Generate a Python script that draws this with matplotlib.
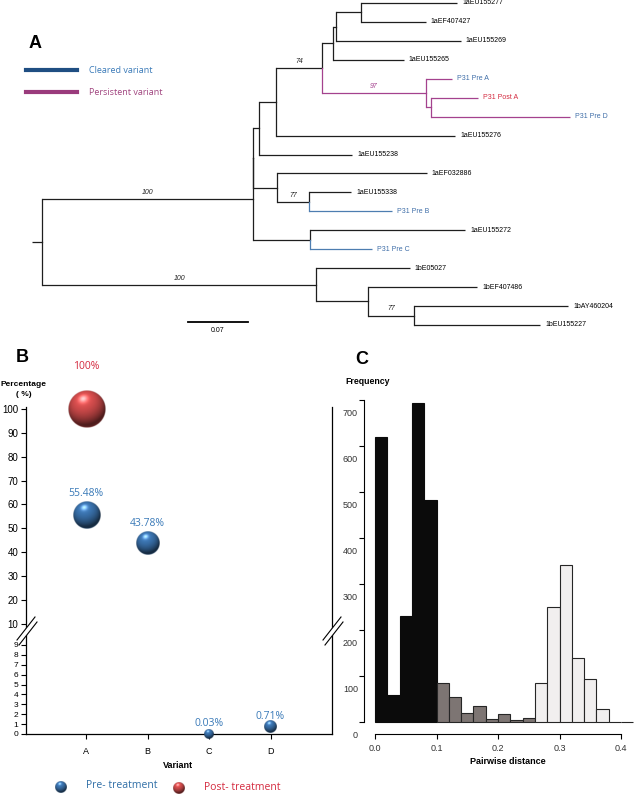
import re

import numpy as np
import matplotlib
matplotlib.use("Agg")
import matplotlib.pyplot as plt
import matplotlib.transforms as mtransforms
from matplotlib.lines import Line2D
from matplotlib.patches import Polygon

# ---------------- data ----------------
# A: maximum-likelihood tree (branch lengths in substitutions/site, bootstrap as node names)
tree_newick = (
    "(((((((((1aEU155277:0.112,1aEF407427:0.075):0.030,1aEU155269:0.146):0.0035,"
    "1aEU155265:0.083):0.012,(P31 Pre A:0.030,(P31 Post A:0.055,P31 Pre D:0.162):0.006)97:0.121)74:0.054,"
    "1aEU155276:0.209):0.020,1aEU155238:0.109):0.007,(1aEF032886:0.175,"
    "(1aEU155338:0.050,P31 Pre B:0.097)77:0.037):0.028):0,(1aEU155272:0.181,P31 Pre C:0.072):0.067)100:0.246,"
    "(1bE05027:0.109,(1bEF407486:0.128,(1bAY460204:0.180,1bEU155227:0.147)77:0.054):0.060)100:0.320):0.0117;"
)
cleared_tips = ["P31 Pre B", "P31 Pre C"]
persistent_tips = ["P31 Pre A", "P31 Post A", "P31 Pre D"]
scale_bar = 0.07

# B: variant frequencies (%)
variants = ["A", "B", "C", "D"]
pre_pct = [55.48, 43.78, 0.03, 0.71]
post_pct = [100.0, None, None, None]

# C: pairwise distance histogram
bin_left = [0.00, 0.02, 0.04, 0.06, 0.08, 0.10, 0.12, 0.14, 0.16, 0.18, 0.20,
            0.22, 0.24, 0.26, 0.28, 0.30, 0.32, 0.34, 0.36, 0.38, 0.40]
freq = [620, 59, 230, 693, 483, 85, 54, 20, 35, 6, 17,
        5, 8, 85, 250, 341, 139, 93, 28, 1, 1]
bin_group = [0, 0, 0, 0, 0, 1, 1, 1, 1, 1, 1,
             1, 1, 2, 2, 2, 2, 2, 2, 2, 2]

# ---------------- style ----------------
BLUE_BR = "#4d7db0"
PURPLE_BR = "#a4428e"
BLUE_TXT = "#3f6ea8"
RED_TXT = "#d42a3f"
LEG_BLUE = "#1f4e82"
LEG_PURPLE = "#9a3b7c"
LABEL_BLUE = "#3a7ab8"
group_face = ["#0b0b0b", "#7d7573", "#f1efef"]
group_edge = ["#0b0b0b", "#262626", "#262626"]

W, H = 635, 794
fig = plt.figure(figsize=(W / 100, H / 100), dpi=100)
plt.rcParams["font.family"] = ["Liberation Sans", "DejaVu Sans"]


def rect(x0, y0, x1, y1):
    return [x0 / W, 1 - y1 / H, (x1 - x0) / W, (y1 - y0) / H]


# overlay in pixel coordinates for panel letters and free text
ov = fig.add_axes([0, 0, 1, 1], zorder=10)
ov.set_xlim(0, W)
ov.set_ylim(H, 0)
ov.axis("off")


# ---------------- A: tree ----------------
def parse_newick(s):
    s = s.strip().rstrip(";")
    pos = 0

    def node():
        nonlocal pos
        n = {"children": [], "name": "", "len": 0.0}
        if s[pos] == "(":
            pos += 1
            while True:
                n["children"].append(node())
                if s[pos] == ",":
                    pos += 1
                    continue
                pos += 1
                break
        m = re.match(r"([^:,()]*)(?::([0-9.eE-]+))?", s[pos:])
        n["name"] = m.group(1).strip()
        if m.group(2):
            n["len"] = float(m.group(2))
        pos += m.end()
        return n

    return node()


tips = []


def layout(n, x0):
    n["x0"] = x0
    n["x"] = x0 + n["len"]
    if n["children"]:
        for c in n["children"]:
            layout(c, n["x"])
        n["y"] = (n["children"][0]["y"] + n["children"][-1]["y"]) / 2
        n["tips"] = sum([c["tips"] for c in n["children"]], [])
    else:
        n["y"] = len(tips)
        tips.append(n["name"])
        n["tips"] = [n["name"]]


def branch_colour(n):
    if all(t in persistent_tips for t in n["tips"]):
        return PURPLE_BR
    if all(t in cleared_tips for t in n["tips"]):
        return BLUE_BR
    return "#1e1e1e"


def tip_colour(name):
    if "Post" in name:
        return RED_TXT
    if "Pre" in name:
        return BLUE_TXT
    return "black"


root = parse_newick(tree_newick)
layout(root, 0.0)

axA = fig.add_axes(rect(0, 0, W, 340))
px_per_unit = 857.0
axA.set_xlim(-32 / px_per_unit, (W - 32) / px_per_unit)
tip_px = 18.94
axA.set_ylim((340 - 3) / tip_px, -3 / tip_px)
axA.axis("off")


def draw(n):
    col = branch_colour(n)
    axA.plot([n["x0"], n["x"]], [n["y"], n["y"]], color=col, lw=0.9,
             solid_capstyle="butt")
    for c in n["children"]:
        axA.plot([n["x"], n["x"]], [n["y"], c["y"]], color=branch_colour(c),
                 lw=0.9, solid_capstyle="projecting")
        draw(c)
    if not n["children"]:
        axA.text(n["x"] + 0.006, n["y"], n["name"], va="center", ha="left",
                 fontsize=5, color=tip_colour(n["name"]))
    elif n["name"]:
        axA.text((n["x0"] + n["x"]) / 2, n["y"] - 0.17, n["name"],
                 ha="center", va="bottom", fontsize=5, style="italic",
                 color=PURPLE_BR if col == PURPLE_BR else "#222222")


draw(root)

# scale bar
sb_x0 = (188 - 32) / px_per_unit
sb_y = (322 - 3) / tip_px
axA.plot([sb_x0, sb_x0 + scale_bar], [sb_y, sb_y], color="black", lw=1.3)
axA.text(sb_x0 + scale_bar / 2, sb_y + 0.25, f"{scale_bar:.2f}", ha="center",
         va="top", fontsize=5)

axA.legend(handles=[Line2D([], [], color=LEG_BLUE, lw=3),
                    Line2D([], [], color=LEG_PURPLE, lw=3)],
           labels=["Cleared variant", "Persistent variant"],
           labelcolor=[LABEL_BLUE, "#a0447f"], frameon=False,
           loc="upper left", bbox_to_anchor=(26 / W, 1 - 66 / H),
           bbox_transform=fig.transFigure, borderpad=0, borderaxespad=0,
           handlelength=5.6, handletextpad=1.4, labelspacing=1.45,
           prop={"family": "Open Sans", "size": 6.5})

ov.text(35, 43, "A", fontsize=13, fontweight="bold", ha="center", va="center")

# ---------------- B: bubble chart with broken axis ----------------
axB = fig.add_axes(rect(26, 407, 332, 734))
yb = [-10, 0, 9, 10, 100, 200]
ub = [-98.9, 0, 89, 110, 325, 564]
axB.set_yscale("function", functions=(lambda y: np.interp(y, yb, ub),
                                      lambda u: np.interp(u, ub, yb)))
axB.set_ylim(0, 100.8)
axB.set_xlim(0.02, 5.0)
xpos = np.arange(1, len(variants) + 1)
axB.set_xticks(xpos)
axB.set_xticklabels(variants, fontsize=6.5)
low_ticks = list(range(0, 10))
high_ticks = list(range(10, 101, 10))
axB.set_yticks(low_ticks + high_ticks)
axB.set_yticklabels([str(t) for t in low_ticks + high_ticks])
for t, lab in zip(low_ticks + high_ticks, axB.get_yticklabels()):
    lab.set_fontsize(6 if t < 10 else 7)
axB.tick_params(axis="both", direction="out", length=3.5, width=0.8, pad=2)
axB.tick_params(axis="x", pad=6)
axB.spines["top"].set_visible(False)
for s in ["left", "right", "bottom"]:
    axB.spines[s].set_linewidth(0.9)
axB.patch.set_alpha(0)


def sphere_img(base, n=90):
    g = np.linspace(-1, 1, n)
    X, Y = np.meshgrid(g, g)
    Yup = -Y
    R = np.sqrt(X ** 2 + Yup ** 2)
    Z = np.sqrt(np.clip(1 - R ** 2, 0, 1))
    L = np.array([-0.2, 0.55, 0.81])
    L = L / np.linalg.norm(L)
    diff = np.clip(X * L[0] + Yup * L[1] + Z * L[2], 0, 1)
    spec = diff ** 40
    rim = np.clip(-Yup, 0, 1) * (1 - Z) ** 3
    base = np.array(matplotlib.colors.to_rgb(base))
    rgb = base[None, None, :] * (0.35 + 0.75 * diff[..., None])
    rgb += 0.5 * spec[..., None] + 0.3 * rim[..., None] * base
    rgb = np.clip(rgb, 0, 1)
    alpha = np.clip((1 - R) * n / 2.5, 0, 1)
    return np.dstack([rgb, alpha])


SPH_BLUE = "#3a72ad"
SPH_RED = "#d24c4c"


def sphere(cx, cy, r, col):
    ov.imshow(sphere_img(col), extent=(cx - r, cx + r, cy + r, cy - r),
              interpolation="bilinear", aspect="auto", zorder=5)


def to_px(ax, x, y):
    d = ax.transData.transform((x, y))
    return ov.transData.inverted().transform(d)


pre_r = [13.7, 12.0, 5.0, 6.3]
pre_dy = [22, 20, 10, 10]
post_r = [18.7]
post_dy = [42]

for i, v in enumerate(pre_pct):
    cx, cy = to_px(axB, xpos[i], v)
    sphere(cx, cy, pre_r[i], SPH_BLUE)
    ov.text(cx, cy - pre_dy[i], f"{v:.2f}%", ha="center", va="center",
            fontsize=7.5, color=LABEL_BLUE, family="Open Sans")
for i, v in enumerate(post_pct):
    if v is None:
        continue
    cx, cy = to_px(axB, xpos[i], v)
    sphere(cx, cy, post_r[i], SPH_RED)
    ov.text(cx, cy - post_dy[i], f"{v:.0f}%", ha="center", va="center",
            fontsize=7.5, color=RED_TXT, family="Open Sans")

# axis break marks
for xc in (26, 332):
    ov.add_patch(Polygon([[xc - 9, 640], [xc + 9, 617], [xc + 11, 622], [xc - 7, 645]],
                         closed=True, facecolor="white", edgecolor="none", zorder=4))
    ov.plot([xc - 9, xc + 9], [640, 617], color="black", lw=0.8, zorder=4)
    ov.plot([xc - 7, xc + 11], [645, 622], color="black", lw=0.8, zorder=4)

ov.text(22, 357, "B", fontsize=13, fontweight="bold", ha="center", va="center")
ov.text(23.5, 384, "Percentage", fontsize=6, fontweight="bold", ha="center", va="center")
ov.text(23.5, 395, "( %)", fontsize=6, fontweight="bold", ha="center", va="center")
ov.text(178, 765, "Variant", fontsize=6.5, fontweight="bold", ha="center", va="center")

# legend for B
sphere(61, 787, 6, SPH_BLUE)
ov.text(86, 786, "Pre- treatment", fontsize=7.5, color="#2f6ea6",
        family="Open Sans", ha="left", va="center")
sphere(179, 788, 6, SPH_RED)
ov.text(204, 788, "Post- treatment", fontsize=7.5, color=RED_TXT,
        family="Open Sans", ha="left", va="center")

# ---------------- C: histogram ----------------
axC = fig.add_axes(rect(364, 400, 634, 734))
x_per_px = 1 / 615.0
y_per_px = 1 / 0.46
axC.set_xlim(-11 * x_per_px, 259 * x_per_px)
axC.set_ylim(-12 * y_per_px, 700)
axC.bar(bin_left, freq, width=0.02, align="edge",
        color=[group_face[g] for g in bin_group],
        edgecolor=[group_edge[g] for g in bin_group], linewidth=0.8)
axC.spines["top"].set_visible(False)
axC.spines["right"].set_visible(False)
axC.spines["left"].set_bounds(0, 700)
axC.spines["bottom"].set_bounds(0, 0.4)
for s in ["left", "bottom"]:
    axC.spines[s].set_linewidth(0.8)
axC.set_xticks([0.0, 0.1, 0.2, 0.3, 0.4])
axC.set_xticklabels(["0.0", "0.1", "0.2", "0.3", "0.4"], fontsize=6.5, color="#333333")
axC.set_yticks(range(0, 701, 100))
axC.set_yticklabels([])
axC.tick_params(axis="both", direction="out", length=3.5, width=0.8)
axC.patch.set_alpha(0)
lab_tr = (mtransforms.blended_transform_factory(axC.transAxes, axC.transData)
          + mtransforms.ScaledTranslation(-0.06, -0.13, fig.dpi_scale_trans))
for t in range(0, 701, 100):
    axC.text(0, t, str(t), transform=lab_tr, ha="right", va="center",
             fontsize=6.5, color="#333333")

ov.text(362, 360, "C", fontsize=13, fontweight="bold", ha="center", va="center")
ov.text(368, 381, "Frequency", fontsize=6.3, fontweight="bold", ha="center", va="center")
ov.text(508, 762, "Pairwise distance", fontsize=6.5, fontweight="bold",
        ha="center", va="center")

fig.savefig("out.png", dpi=100)
